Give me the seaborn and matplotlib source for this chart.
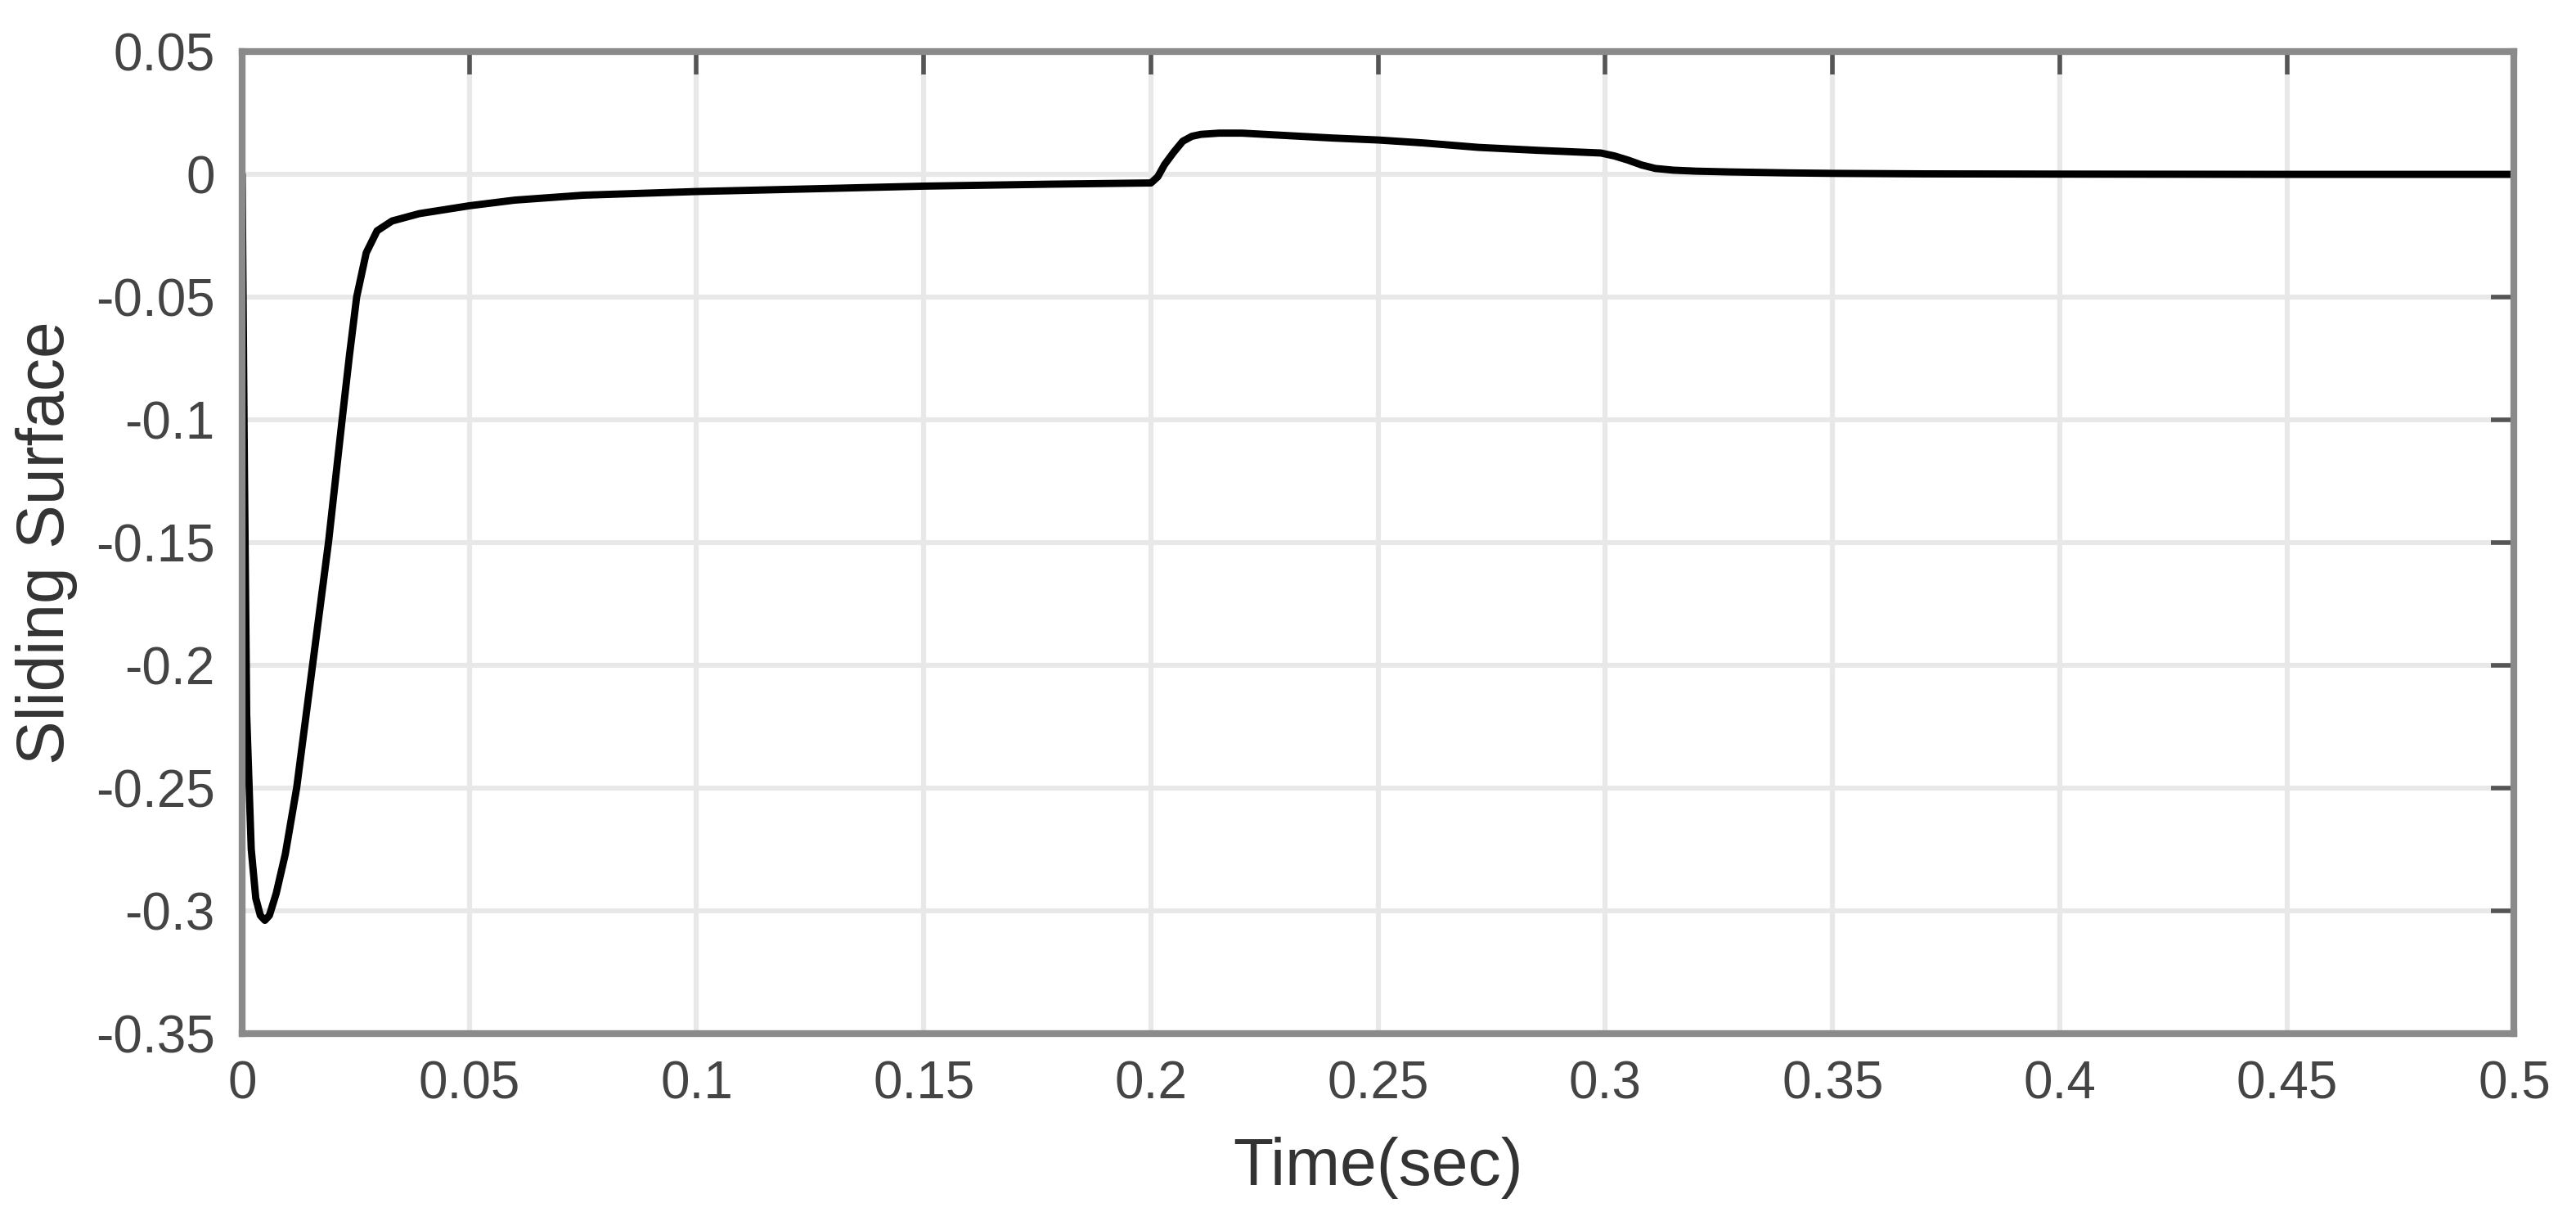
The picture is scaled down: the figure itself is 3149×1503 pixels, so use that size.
import matplotlib
matplotlib.use("Agg")
import matplotlib.pyplot as plt
import matplotlib.ticker as mticker
import numpy as np
import seaborn as sns
import pandas as pd

# valori
time_sec = [0, 0.0005, 0.001, 0.002, 0.003, 0.004, 0.005, 0.006, 0.0075, 0.0095,
            0.012, 0.0155, 0.019, 0.022, 0.0236, 0.0252, 0.0273, 0.0297, 0.033, 0.039,
            0.05, 0.06, 0.075, 0.1, 0.13, 0.15, 0.178, 0.2, 0.2015, 0.203,
            0.205, 0.207, 0.209, 0.211, 0.215, 0.22, 0.23, 0.24, 0.25, 0.26,
            0.272, 0.285, 0.299, 0.302, 0.305, 0.308, 0.311, 0.315, 0.32, 0.327,
            0.34, 0.35, 0.37, 0.4, 0.45, 0.5]
sliding = [0, -0.12, -0.22, -0.275, -0.295, -0.302, -0.304, -0.302, -0.293, -0.277,
           -0.25, -0.2, -0.15, -0.1, -0.074, -0.05, -0.032, -0.023, -0.019, -0.016,
           -0.0128, -0.0105, -0.0085, -0.007, -0.0057, -0.0048, -0.004, -0.0035, -0.001, 0.004,
           0.009, 0.0135, 0.0155, 0.0163, 0.0168, 0.0168, 0.0158, 0.0148, 0.014, 0.0128,
           0.011, 0.0098, 0.0087, 0.0075, 0.0058, 0.0038, 0.0024, 0.0017, 0.0013, 0.001,
           0.0006, 0.0004, 0.0002, 0.0001, 0, 0]

x_ticks = [0, 0.05, 0.1, 0.15, 0.2, 0.25, 0.3, 0.35, 0.4, 0.45, 0.5]
y_ticks = [0.05, 0, -0.05, -0.1, -0.15, -0.2, -0.25, -0.3, -0.35]

df = pd.DataFrame({"t": time_sec, "s": sliding})

sns.set_theme(style="whitegrid")
plt.rcParams["font.family"] = ["Liberation Sans", "DejaVu Sans"]
plt.rcParams["axes.unicode_minus"] = False

fig = plt.figure(figsize=(15.745, 7.515), dpi=200)
ax = fig.add_axes([0.094, 0.160, 0.882, 0.798])

sns.lineplot(data=df, x="t", y="s", color="black", linewidth=3.2, ax=ax, sort=False)

ax.set_xlim(0, 0.5)
ax.set_ylim(-0.35, 0.05)
ax.set_xticks(x_ticks)
ax.set_yticks(y_ticks)
ax.xaxis.set_major_formatter(mticker.FormatStrFormatter("%g"))
ax.yaxis.set_major_formatter(mticker.FormatStrFormatter("%g"))

# griglia e bordi stile matlab
ax.grid(True, color="#e8e8e8", linewidth=2.2)
ax.set_axisbelow(True)
for sp in ax.spines.values():
    sp.set_visible(True)
    sp.set_color("#8a8a8a")
    sp.set_linewidth(3)

ax.tick_params(axis="both", which="major", direction="in", length=10, width=2,
               color="#555555", top=True, right=True, labelsize=23,
               labelcolor="#444444", pad=12)

ax.set_xlabel("Time(sec)", fontsize=29, color="#333333", labelpad=12)
ax.set_ylabel("Sliding Surface", fontsize=29, color="#333333", labelpad=8)

plt.savefig("out.png", dpi=200, facecolor="white")
plt.close()
